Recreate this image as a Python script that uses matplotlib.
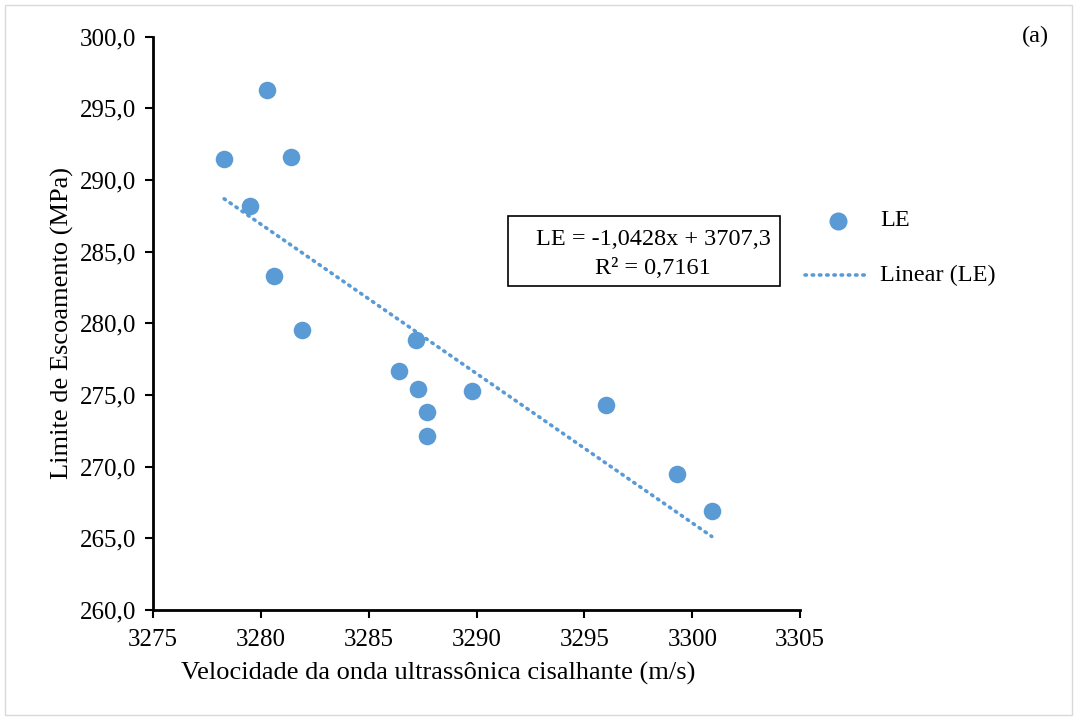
"""
Limite de escoamento vs velocidade da onda ultrassonica cisalhante (a).
"""
import numpy as np
import matplotlib.pyplot as plt
from matplotlib.patches import Rectangle
from matplotlib.lines import Line2D

plt.rcParams['font.family'] = ['Liberation Serif', 'DejaVu Serif']

# data
velocidade = [3278.3, 3280.3, 3279.5, 3281.4, 3280.6, 3281.9, 3287.2, 3286.4,
              3287.3, 3287.7, 3287.7, 3289.8, 3296.0, 3299.3, 3300.9]
limite_esc = [291.5, 296.3, 288.2, 291.6, 283.3, 279.5, 278.8, 276.7,
              275.4, 273.8, 272.1, 275.3, 274.3, 269.5, 266.9]
slope = -1.0428
intercept = 3707.3
r2 = 0.7161
xticks = [3275, 3280, 3285, 3290, 3295, 3300, 3305]
yticks = [260, 265, 270, 275, 280, 285, 290, 295, 300]

blue = '#5B9BD5'
W, H = 1077, 720

def fx(px):
    return px / W

def fy(py):
    return 1 - py / H

fig = plt.figure(figsize=(10.77, 7.2), dpi=100)
ax = fig.add_axes([0.142, 0.153, 0.601, 0.796])

ax.scatter(velocidade, limite_esc, s=160, color=blue, zorder=3, linewidths=0)
xt = np.array([min(velocidade), max(velocidade)])
ax.plot(xt, slope * xt + intercept, linestyle=(0, (0.4, 1.6)), color=blue,
        lw=2.6, dash_capstyle='round', zorder=2)

ax.set_xlim(3275, 3305)
ax.set_ylim(260, 300)
ax.set_xticks(xticks)
ax.set_yticks(yticks)
ax.set_yticklabels([f"{v:.1f}".replace('.', ',') for v in yticks])
ax.tick_params(labelsize=18, width=1.5, length=6, direction='out', colors='black')
ax.tick_params(axis='x', pad=8)
ax.tick_params(axis='y', pad=6)
for s in ['top', 'right']:
    ax.spines[s].set_visible(False)
for s in ['left', 'bottom']:
    ax.spines[s].set_linewidth(2)
ax.set_xlabel("Velocidade da onda ultrassônica cisalhante (m/s)", fontsize=19)
ax.xaxis.set_label_coords(0.44, -0.09)
ax.set_ylabel("Limite de Escoamento (MPa)", fontsize=19, labelpad=4)

# equation box
eq = f"LE = {slope:.4f}x + {intercept:.1f}".replace('.', ',')
fig.text(fx(653), fy(240), eq, ha='center', va='center', fontsize=17.5)
fig.text(fx(653), fy(269), f"R² = {r2:.4f}".replace('.', ','),
         ha='center', va='center', fontsize=17.5)
fig.patches.append(Rectangle((fx(508), fy(286)), 272 / W, 70 / H,
                             transform=fig.transFigure, fill=False, lw=1.2,
                             edgecolor='black'))

# legend
fig.lines.append(Line2D([fx(838)], [fy(221)], marker='o', ls='none', color=blue,
                        markersize=13, markeredgewidth=0,
                        transform=fig.transFigure))
fig.lines.append(Line2D([fx(805), fx(870)], [fy(275), fy(275)],
                        ls=(0, (0.4, 1.6)), color=blue, lw=2.6,
                        dash_capstyle='round', transform=fig.transFigure))
fig.text(fx(880), fy(221), "LE", ha='left', va='center', fontsize=17.5)
fig.text(fx(880), fy(275), "Linear (LE)", ha='left', va='center', fontsize=17.5)

fig.text(fx(1035), fy(36), "(a)", ha='center', va='center', fontsize=17.5)

# outer frame
fig.patches.append(Rectangle((5 / W, 5 / H), 1067 / W, 710 / H,
                             transform=fig.transFigure, fill=False, lw=1,
                             edgecolor='#d9d9d9'))

fig.savefig("out.png", dpi=100)
